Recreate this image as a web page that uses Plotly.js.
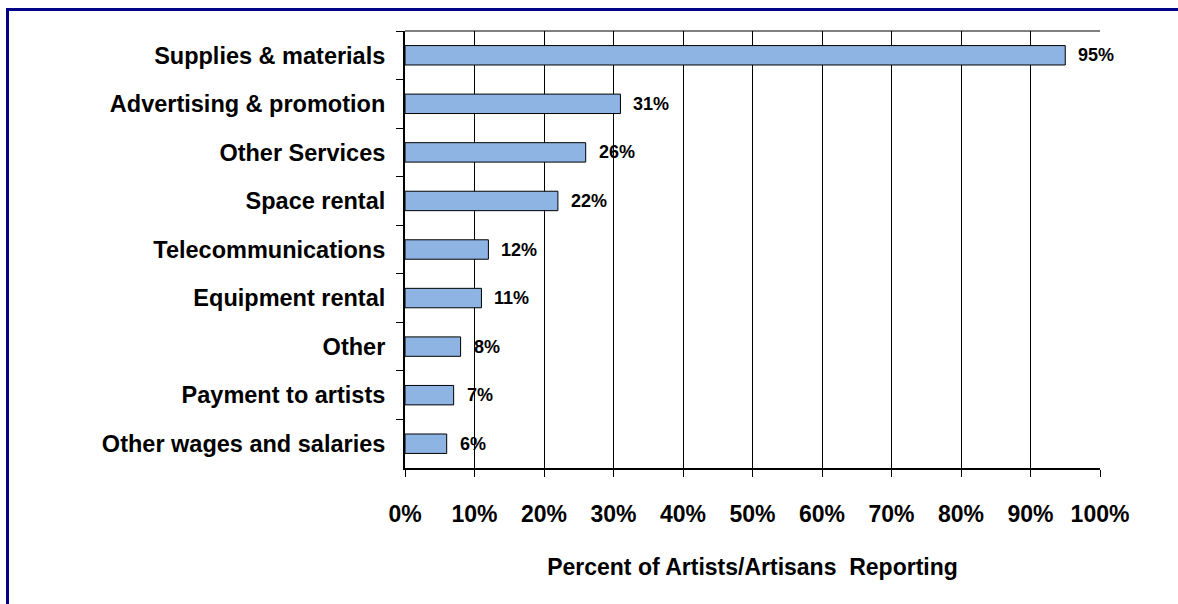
<!DOCTYPE html>
<html>
<head>
<meta charset="utf-8">
<script src="https://cdn.plot.ly/plotly-3.0.1.min.js"></script>
<style>
  html, body { margin: 0; padding: 0; background: #fff; overflow: hidden; }
  #chart { width: 1178px; height: 604px; }
  #frame { position: absolute; left: 6px; top: 8px; width: 1300px; height: 700px;
           border-left: 3px solid #000088; border-top: 3px solid #000088; pointer-events: none; }
</style>
</head>
<body>
<div id="chart"></div>
<div id="frame"></div>
<script>
const categories = [
  "Supplies & materials",
  "Advertising & promotion",
  "Other Services",
  "Space rental",
  "Telecommunications",
  "Equipment rental",
  "Other",
  "Payment to artists",
  "Other wages and salaries"
];
const percents = [95, 31, 26, 22, 12, 11, 8, 7, 6];
const valueLabels = percents.map(v => v + "%");
const xTickValues = [0, 10, 20, 30, 40, 50, 60, 70, 80, 90, 100];
const xTickLabels = xTickValues.map(v => v + "%");
const xTitle = "Percent of Artists/Artisans  Reporting";

const FONT = "Liberation Sans, Arial, sans-serif";

const trace = {
  type: "bar",
  orientation: "h",
  x: percents,
  y: categories,
  width: 0.4,
  marker: { color: "#8EB4E3", line: { color: "#000000", width: 1 } },
  hoverinfo: "skip"
};

const annotations = percents.map((v, i) => ({
  x: v, y: categories[i], xref: "x", yref: "y",
  text: "<b>" + valueLabels[i] + "</b>", showarrow: false, xanchor: "left", yanchor: "middle",
  xshift: 11, font: { family: FONT, size: 18, color: "#000" }
}));

const layout = {
  width: 1178, height: 604,
  margin: { l: 405, r: 78, t: 31, b: 136 },
  paper_bgcolor: "#fff", plot_bgcolor: "#fff",
  showlegend: false,
  font: { family: FONT, color: "#000" },
  xaxis: {
    range: [0, 100],
    tickvals: xTickValues, ticktext: xTickLabels,
    showgrid: true, gridcolor: "#000", gridwidth: 1,
    zeroline: false,
    showline: true, linecolor: "#000", linewidth: 2,
    ticks: "outside", ticklen: 7, tickwidth: 1, tickcolor: "#000",
    ticklabelstandoff: 17,
    tickfont: { family: FONT, size: 23, color: "#000", weight: "bold" },
    title: { text: "<b>" + xTitle + "</b>", standoff: 33,
             font: { family: FONT, size: 23, color: "#000" } },
    fixedrange: true
  },
  yaxis: {
    type: "category",
    autorange: "reversed",
    showgrid: false, zeroline: false,
    showline: true, linecolor: "#000", linewidth: 2,
    ticks: "outside", ticklen: 7, tickwidth: 1, tickcolor: "#000",
    tickson: "boundaries",
    ticklabelstandoff: 13,
    tickfont: { family: FONT, size: 23.5, color: "#000", weight: "bold" },
    fixedrange: true
  },
  shapes: [
    { type: "line", xref: "paper", yref: "paper", x0: 0, x1: 1, y0: 1, y1: 1,
      line: { color: "#000", width: 1 } }
  ],
  annotations: annotations
};

Plotly.newPlot("chart", [trace], layout, { staticPlot: true, displayModeBar: false });
</script>
</body>
</html>
